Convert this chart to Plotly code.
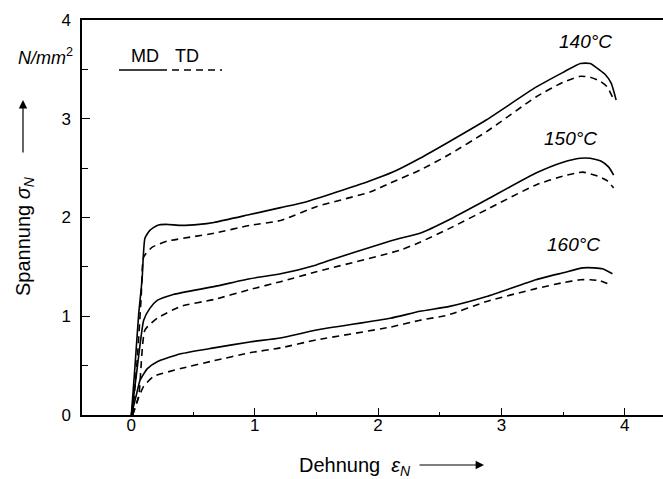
import plotly.graph_objects as go

# ---------------- data ----------------
x_140_md = [0, 0.03, 0.06, 0.087, 0.11, 0.15, 0.21, 0.28, 0.40, 0.55, 0.67, 0.96, 1.21, 1.42, 1.91, 2.12, 2.34, 2.58, 2.88, 3.28, 3.50, 3.64, 3.72, 3.80, 3.84, 3.89, 3.93]
y_140_md = [0, 0.50, 1.03, 1.37, 1.79, 1.87, 1.92, 1.93, 1.92, 1.93, 1.95, 2.03, 2.10, 2.16, 2.36, 2.46, 2.60, 2.77, 2.99, 3.32, 3.47, 3.56, 3.56, 3.49, 3.45, 3.36, 3.19]

x_140_td = [0.01, 0.05, 0.08, 0.10, 0.17, 0.29, 0.67, 0.96, 1.21, 1.50, 1.94, 2.10, 2.34, 2.58, 2.88, 3.28, 3.50, 3.64, 3.72, 3.80, 3.86, 3.90]
y_140_td = [0, 0.60, 1.20, 1.60, 1.70, 1.76, 1.84, 1.92, 1.97, 2.11, 2.26, 2.35, 2.48, 2.64, 2.87, 3.22, 3.37, 3.43, 3.42, 3.38, 3.32, 3.22]

x_150_md = [0, 0.05, 0.10, 0.15, 0.21, 0.34, 0.67, 0.96, 1.21, 1.50, 1.64, 1.99, 2.18, 2.34, 2.58, 2.88, 3.28, 3.50, 3.64, 3.72, 3.81, 3.87, 3.91]
y_150_md = [0, 0.50, 0.96, 1.08, 1.16, 1.22, 1.30, 1.38, 1.43, 1.52, 1.58, 1.72, 1.79, 1.84, 1.98, 2.18, 2.45, 2.56, 2.60, 2.60, 2.57, 2.51, 2.43]

x_150_td = [0.01, 0.06, 0.11, 0.21, 0.40, 0.67, 0.96, 1.21, 1.50, 2.18, 2.34, 2.58, 2.88, 3.28, 3.50, 3.66, 3.80, 3.86, 3.91]
y_150_td = [0, 0.19, 0.86, 0.98, 1.10, 1.17, 1.27, 1.35, 1.45, 1.67, 1.75, 1.89, 2.08, 2.33, 2.42, 2.46, 2.41, 2.37, 2.30]

x_160_md = [0, 0.04, 0.07, 0.13, 0.21, 0.40, 0.67, 0.96, 1.21, 1.50, 2.10, 2.34, 2.58, 2.88, 3.28, 3.50, 3.66, 3.75, 3.82, 3.90]
y_160_md = [0, 0.20, 0.35, 0.47, 0.54, 0.62, 0.68, 0.74, 0.78, 0.86, 0.98, 1.05, 1.10, 1.20, 1.37, 1.44, 1.49, 1.49, 1.48, 1.43]

x_160_td = [0.01, 0.05, 0.10, 0.18, 0.40, 0.67, 0.96, 1.21, 1.50, 2.10, 2.34, 2.56, 2.88, 3.28, 3.50, 3.64, 3.72, 3.80, 3.88]
y_160_td = [0, 0.15, 0.29, 0.39, 0.47, 0.55, 0.63, 0.68, 0.76, 0.89, 0.96, 1.01, 1.15, 1.28, 1.34, 1.37, 1.37, 1.36, 1.32]

x_ticks = [0, 1, 2, 3, 4]
y_ticks = [0, 1, 2, 3, 4]
temp_labels = ["140°C", "150°C", "160°C"]

# ---------------- layout helpers ----------------
W, H = 663, 479
L, R, T, B = 82, 0, 20, 64
PW, PH = W - L - R, H - T - B


def px(x):
    return (x - L) / PW


def py(y):
    return (H - B - y) / PH


FONT = "Liberation Sans, Arial, Helvetica, sans-serif"
LW = 1.6
DASH = "7px,5px"

fig = go.Figure()
series = [
    (x_140_md, y_140_md, "solid"), (x_140_td, y_140_td, DASH),
    (x_150_md, y_150_md, "solid"), (x_150_td, y_150_td, DASH),
    (x_160_md, y_160_md, "solid"), (x_160_td, y_160_td, DASH),
]
for xs, ys, d in series:
    fig.add_trace(go.Scatter(x=xs, y=ys, mode="lines", showlegend=False,
                             line=dict(color="black", width=LW, dash=d,
                                       shape="spline", smoothing=0.5)))

axis_common = dict(showgrid=False, zeroline=False, showline=True, linecolor="black",
                   linewidth=1.5, ticks="inside", tickcolor="black", tickwidth=1.3,
                   tickfont=dict(family=FONT, size=17, color="black"))
fig.update_xaxes(range=[-0.4, 4.31], tickvals=x_ticks, ticklen=7, mirror=True,
                 minor=dict(ticks="inside", dtick=0.5, ticklen=3, tickcolor="black", tickwidth=1.3),
                 ticklabelstandoff=-6, **axis_common)
fig.update_yaxes(range=[0, 4], tickvals=y_ticks, ticklen=8,
                 minor=dict(ticks="inside", dtick=0.5, ticklen=6, tickcolor="black", tickwidth=1.3),
                 ticklabelstandoff=6, **axis_common)

ann = []
tf = dict(family=FONT, size=18, color="black")
# axis titles
ann.append(dict(text="Spannung <i>σ</i><sub><i>N</i></sub>", x=px(24), y=py(236), textangle=-90,
                font=dict(family=FONT, size=20, color="black")))
ann.append(dict(text="Dehnung  <i>ε</i><sub><i>N</i></sub>", x=px(297), y=py(466), xanchor="left",
                font=dict(family=FONT, size=20, color="black")))
ann.append(dict(text="<i>N/mm</i><sup>2</sup>", x=px(45), y=py(56),
                font=dict(family=FONT, size=18, color="black")))
# legend texts
ann.append(dict(text="MD", x=px(145), y=py(56), font=tf))
ann.append(dict(text="TD", x=px(187), y=py(56), font=tf))
# temperature labels
for t, (cx, cy) in zip(temp_labels, [(585, 42), (570, 138), (573, 245)]):
    ann.append(dict(text="<i>" + t + "</i>", x=px(cx), y=py(cy),
                    font=dict(family=FONT, size=19, color="black")))
for a in ann:
    a.setdefault("xanchor", "center")
    a.update(xref="paper", yref="paper", yanchor="middle", showarrow=False)

# arrows
ann.append(dict(text="", x=px(484), y=py(465), ax=-66, ay=0, xref="paper", yref="paper",
                showarrow=True, arrowhead=2, arrowsize=1.4, arrowwidth=1.2, arrowcolor="black"))
ann.append(dict(text="", x=px(23), y=py(100), ax=0, ay=54, xref="paper", yref="paper",
                showarrow=True, arrowhead=2, arrowsize=1.4, arrowwidth=1.2, arrowcolor="black"))
fig.update_layout(annotations=ann)

# legend sample lines
fig.add_shape(type="line", xref="paper", yref="paper", x0=px(119), x1=px(167), y0=py(70), y1=py(70),
              line=dict(color="black", width=LW))
fig.add_shape(type="line", xref="paper", yref="paper", x0=px(172), x1=px(222), y0=py(70), y1=py(70),
              line=dict(color="black", width=LW, dash=DASH))

fig.update_layout(width=W, height=H, margin=dict(l=L, r=R, t=T, b=B, autoexpand=False),
                  plot_bgcolor="white", paper_bgcolor="white")
fig.write_html("out.html")
